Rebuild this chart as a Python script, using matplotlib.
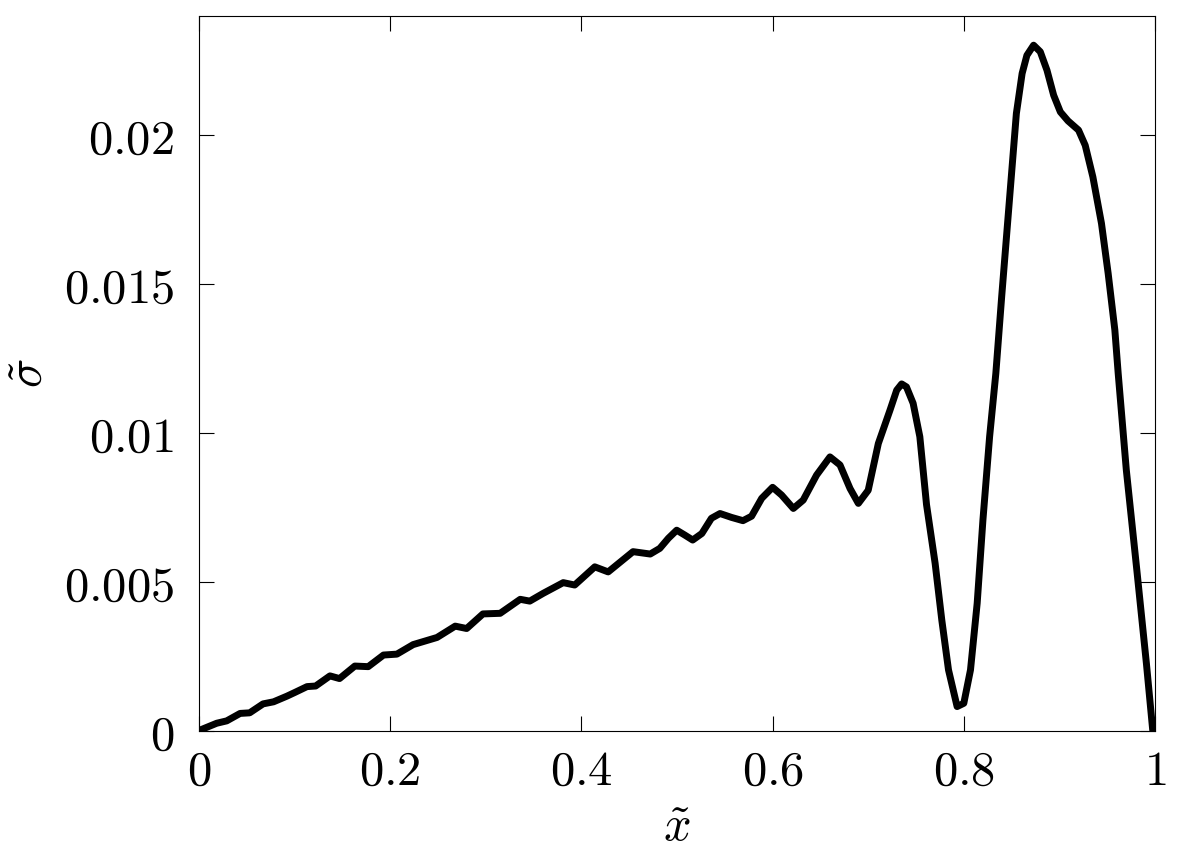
import matplotlib
matplotlib.use("Agg")
import matplotlib.pyplot as plt

plt.rcParams['mathtext.fontset'] = 'cm'
plt.rcParams['font.family'] = 'serif'

x_vals = [0.000, 0.001, 0.0185, 0.029, 0.043, 0.053, 0.067, 0.078, 0.092, 0.100,
          0.113, 0.122, 0.137, 0.147, 0.163, 0.177, 0.193, 0.207, 0.224, 0.249,
          0.268, 0.280, 0.297, 0.315, 0.336, 0.346, 0.360, 0.381, 0.393, 0.414,
          0.428, 0.454, 0.472, 0.482, 0.491, 0.4997, 0.508, 0.5164, 0.526, 0.536,
          0.545, 0.557, 0.569, 0.578, 0.5886, 0.600, 0.6094, 0.6217, 0.632, 0.646,
          0.660, 0.6705, 0.681, 0.6897, 0.700, 0.7106, 0.7228, 0.7298, 0.735, 0.740,
          0.747, 0.754, 0.761, 0.770, 0.777, 0.784, 0.793, 0.800, 0.807, 0.814,
          0.820, 0.827, 0.8335, 0.8396, 0.848, 0.855, 0.861, 0.866, 0.873, 0.880,
          0.887, 0.894, 0.901, 0.909, 0.920, 0.927, 0.935, 0.944, 0.951, 0.958,
          0.9615, 0.970, 0.981, 0.991, 0.9976, 1.000]
sigma_vals = [0.00000, 0.00003, 0.00026, 0.00034, 0.00059, 0.00061, 0.00091, 0.00098, 0.00117, 0.00129,
              0.00149, 0.00151, 0.00185, 0.00176, 0.00218, 0.00216, 0.00255, 0.00258, 0.00290, 0.00314,
              0.00352, 0.00344, 0.00393, 0.00395, 0.00442, 0.00436, 0.00462, 0.00498, 0.00490, 0.00551,
              0.00534, 0.00602, 0.00594, 0.00613, 0.00647, 0.00674, 0.00658, 0.00641, 0.00663, 0.00714,
              0.00730, 0.00717, 0.00706, 0.00721, 0.00781, 0.00818, 0.00792, 0.00747, 0.00775, 0.00859,
              0.00920, 0.00893, 0.00814, 0.00764, 0.00808, 0.00965, 0.01077, 0.01144, 0.01165, 0.01155,
              0.01100, 0.00988, 0.00760, 0.00563, 0.00372, 0.00205, 0.00082, 0.00093, 0.00205, 0.00429,
              0.00708, 0.00988, 0.01200, 0.01457, 0.01793, 0.02073, 0.02207, 0.02268, 0.02302, 0.02280,
              0.02218, 0.02134, 0.02078, 0.02048, 0.02017, 0.01966, 0.01860, 0.01704, 0.01536, 0.01346,
              0.01200, 0.00876, 0.00540, 0.00227, 0.00003, 0.00000]

x_ticks = [0, 0.2, 0.4, 0.6, 0.8, 1.0]
x_tick_labels = ['0', '0.2', '0.4', '0.6', '0.8', '1']
y_ticks = [0, 0.005, 0.01, 0.015, 0.02]
y_tick_labels = ['0', '0.005', '0.01', '0.015', '0.02']

fig = plt.figure(figsize=(11.79, 8.59), dpi=100)
ax = fig.add_axes([199/1179, 1 - 731/859, (1155 - 199)/1179, (731 - 16)/859])

ax.plot(x_vals, sigma_vals, color='black', linewidth=5.0, solid_joinstyle='round',
        solid_capstyle='butt')

ax.set_xlim(0, 1)
ax.set_ylim(0, 0.024)
ax.set_xticks(x_ticks)
ax.set_xticklabels(['$' + t + '$' for t in x_tick_labels])
ax.set_yticks(y_ticks)
ax.set_yticklabels(['$' + t + '$' for t in y_tick_labels])
ax.tick_params(direction='in', length=11, width=0.8, top=True, right=True,
               labelsize=35)
ax.tick_params(axis='x', pad=12)
ax.tick_params(axis='y', pad=18)
for sp in ax.spines.values():
    sp.set_linewidth(0.8)

ax.set_xlabel(r'$\tilde{x}$', fontsize=35, labelpad=7)
ax.set_ylabel(r'$\tilde{\sigma}$', fontsize=35, labelpad=8)

fig.savefig('out.png', dpi=100)
